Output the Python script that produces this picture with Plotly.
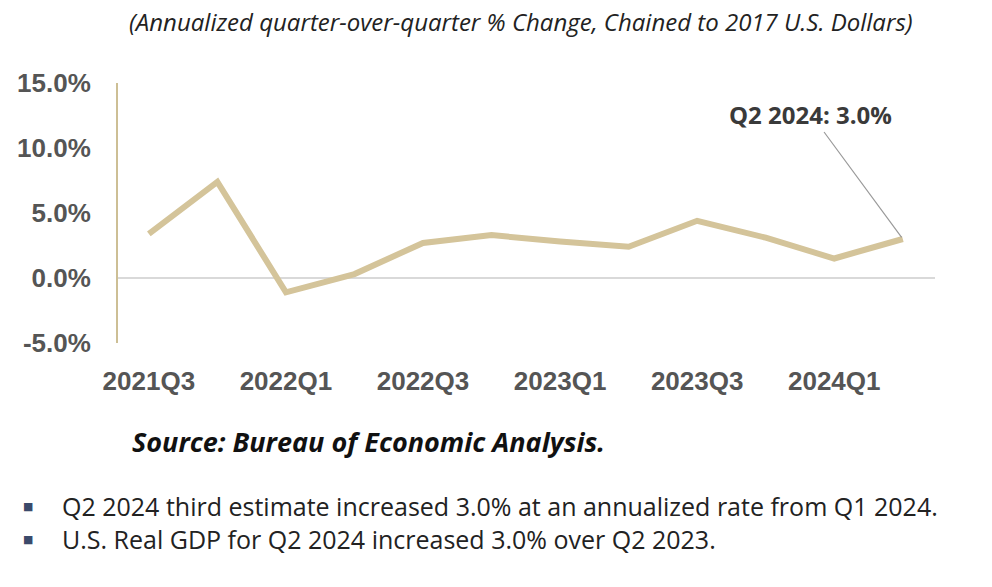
import plotly.graph_objects as go

quarters = ["2021Q3", "2021Q4", "2022Q1", "2022Q2", "2022Q3", "2022Q4",
            "2023Q1", "2023Q2", "2023Q3", "2023Q4", "2024Q1", "2024Q2"]
gdp_change = [3.4, 7.4, -1.1, 0.3, 2.7, 3.3, 2.8, 2.4, 4.4, 3.1, 1.5, 3.0]
tick_labels = ["2021Q3", "2022Q1", "2022Q3", "2023Q1", "2023Q3", "2024Q1"]
y_ticks = [-5, 0, 5, 10, 15]

subtitle = "(Annualized quarter-over-quarter % Change, Chained to 2017 U.S. Dollars)"
source = "Source: Bureau of Economic Analysis."
bullets = ["Q2 2024 third estimate increased 3.0% at an annualized rate from Q1 2024.",
           "U.S. Real GDP for Q2 2024 increased 3.0% over Q2 2023."]
callout = "Q2 2024: 3.0%"

W, H = 992, 587
L, R, T, B = 118, 935, 83, 343


def px(x):
    return (x - L) / (R - L)


def py(y):
    return (B - y) / (B - T)


fig = go.Figure()
fig.add_trace(go.Scatter(
    x=quarters, y=gdp_change, mode="lines",
    line=dict(color="#d4c49a", width=6), hoverinfo="skip"))

fig.update_layout(
    width=W, height=H,
    margin=dict(l=L, r=W - R, t=T, b=H - B),
    paper_bgcolor="white", plot_bgcolor="white",
    showlegend=False,
    xaxis=dict(
        type="category", range=[-0.45, 11.47],
        tickmode="array", tickvals=tick_labels, ticktext=tick_labels,
        showgrid=False, zeroline=False, showline=False, ticks="",
        ticklabelstandoff=20,
        tickfont=dict(family="Liberation Sans, Arial", size=26,
                      color="#555555", weight="bold"),
    ),
    yaxis=dict(
        range=[-5, 15], tickvals=y_ticks,
        ticktext=[f"{v:.1f}%" for v in y_ticks],
        showgrid=False, zeroline=True, zerolinecolor="#d9d9d9", zerolinewidth=1.5,
        showline=True, linecolor="#cdbf95", linewidth=2, ticks="",
        ticklabelstandoff=20,
        tickfont=dict(family="Liberation Sans, Arial", size=26,
                      color="#555555", weight="bold"),
    ),
)

annotations = [
    dict(xref="paper", yref="paper", x=px(521), y=py(22), text=f"<i>{subtitle}</i>",
         showarrow=False, xanchor="center", yanchor="middle",
         font=dict(family="Open Sans", size=24, color="#222222")),
    dict(xref="x", yref="y", x=quarters[-1], y=gdp_change[-1], text=f"<b>{callout}</b>",
         showarrow=True, arrowhead=0, arrowwidth=1.2, arrowcolor="#9a9a9a",
         ax=-92, ay=-125, standoff=2,
         font=dict(family="Open Sans", size=24, color="#3a3a3a")),
    dict(xref="paper", yref="paper", x=px(130), y=py(441), text=f"<b><i>{source}</i></b>",
         showarrow=False, xanchor="left", yanchor="middle",
         font=dict(family="Open Sans", size=27, color="#111111")),
]
for i, b in enumerate(bullets):
    yy = 506 + 33 * i
    annotations.append(dict(xref="paper", yref="paper", x=px(60), y=py(yy), text=b,
                            showarrow=False, xanchor="left", yanchor="middle",
                            font=dict(family="Open Sans", size=25, color="#222222")))
    annotations.append(dict(xref="paper", yref="paper", x=px(28), y=py(yy), text="■",
                            showarrow=False, xanchor="center", yanchor="middle",
                            font=dict(family="DejaVu Sans", size=11, color="#3b4a6b")))
fig.update_layout(annotations=annotations)

fig.write_html("out.html", config={"displayModeBar": False},
               post_script="document.body.style.margin='0';")
